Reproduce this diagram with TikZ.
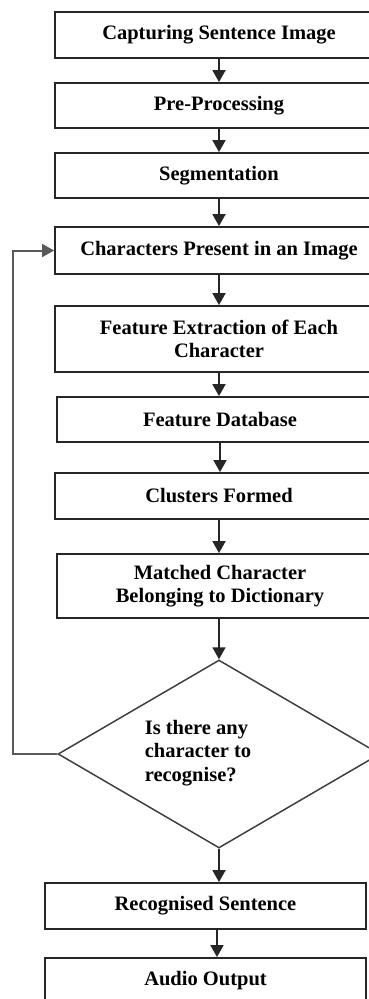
\documentclass[tikz,border=0pt]{standalone}
\usepackage{fontspec}
\setmainfont{Liberation Serif}
\usetikzlibrary{shapes.geometric,arrows.meta,calc}
\begin{document}
\begin{tikzpicture}[x=1pt,y=-1pt,
  every node/.style={font=\fontsize{20.5}{23.5}\selectfont\bfseries},
  stepbox/.style={draw=black!85,line width=1.8pt,rectangle,inner sep=0pt,align=center},
  decbox/.style={draw=black!75,line width=1.5pt,diamond,inner sep=0pt,minimum width=322,minimum height=188},
  arr/.style={draw=black!85,line width=1.7pt,-{Triangle[width=13pt,length=12pt]}}]
\useasboundingbox (0,0) rectangle (368,999);
\fill[white] (0,0) rectangle (368,999);
\node[stepbox,minimum width=328,minimum height=46] (b1) at (219,35) {Capturing Sentence Image};
\node[stepbox,minimum width=328,minimum height=45] (b2) at (219,105.5) {Pre-Processing};
\node[stepbox,minimum width=328,minimum height=45] (b3) at (219,175.5) {Segmentation};
\node[stepbox,minimum width=328,minimum height=47] (b4) at (219,250.5) {Characters Present in an Image};
\node[stepbox,minimum width=328,minimum height=66] (b5) at (219,339) {Feature Extraction of Each\\Character};
\node[stepbox,minimum width=326,minimum height=45] (b6) at (220,419.5) {Feature Database};
\node[stepbox,minimum width=328,minimum height=46] (b7) at (219,496) {Clusters Formed};
\node[stepbox,minimum width=326,minimum height=64] (b8) at (220,586) {Matched Character\\Belonging to Dictionary};
\node[decbox] (d) at (219,754) {};
\node[align=left,inner sep=0pt] (dt) at (198,753) {Is there any\\character to\\recognise?};
\node[stepbox,minimum width=321,minimum height=46] (b9) at (205.5,906) {Recognised Sentence};
\node[stepbox,minimum width=321,minimum height=46] (b10) at (205.5,981) {Audio Output};
\draw[arr] (b1.south) -- (b2.north);
\draw[arr] (b2.south) -- (b3.north);
\draw[arr] (b3.south) -- (b4.north);
\draw[arr] (b4.south) -- (b5.north);
\draw[arr] (b5.south) -- (b6.north -| b5.south);
\draw[arr] (b6.south) -- (b7.north -| b6.south);
\draw[arr] (b7.south) -- (b8.north -| b7.south);
\draw[arr] (b8.south -| d.north) -- (d.north);
\draw[arr] (d.south) -- (b9.north -| d.south);
\draw[arr] ($(b9.south)+(11.5,0)$) -- ($(b10.north)+(11.5,0)$);
\draw[arr,draw=black!65,line width=2pt] (d.west) -- ++(-44,0) |- (b4.west);
\end{tikzpicture}
\end{document}
